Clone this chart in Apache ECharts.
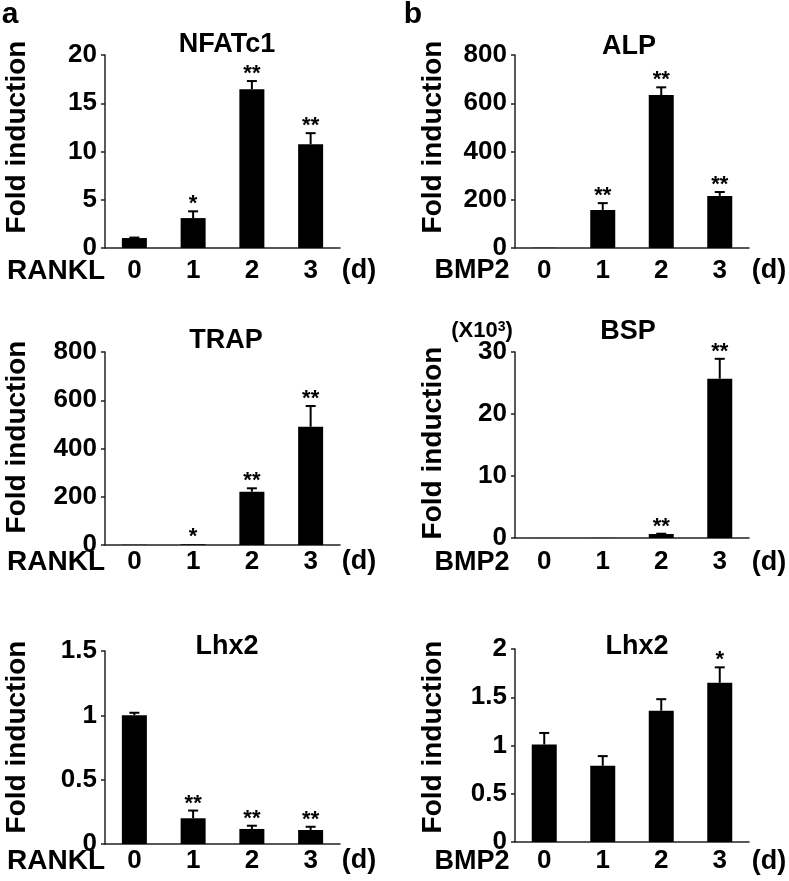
<!DOCTYPE html>
<html><head><meta charset="utf-8">
<script src="https://cdn.jsdelivr.net/npm/echarts@6/dist/echarts.min.js"></script>
<style>html,body{margin:0;padding:0;background:#fff}#c{width:789px;height:881px}</style>
</head><body><div id="c"></div>
<script>
// ---- data ----
const days = ['0', '1', '2', '3'];

const nfatc1Mean = [1.03, 3.1, 16.45, 10.75];
const nfatc1Err  = [0.05, 0.7, 0.85, 1.15];
const nfatc1Sig  = ['', '*', '**', '**'];
const nfatc1Ticks = [0, 5, 10, 15, 20];

const alpMean = [1, 158, 634, 216];
const alpErr  = [0, 28, 32, 16];
const alpSig  = ['', '**', '**', '**'];
const alpTicks = [0, 200, 400, 600, 800];

const trapMean = [1, 3, 221, 490];
const trapErr  = [0, 0, 14, 86];
const trapSig  = ['', '*', '**', '**'];
const trapTicks = [0, 200, 400, 600, 800];

const bspMean = [0.01, 0.02, 0.64, 25.7];   // x10^3
const bspErr  = [0, 0, 0.05, 3.2];
const bspSig  = ['', '', '**', '**'];
const bspTicks = [0, 10, 20, 30];

const lhx2RanklMean = [1.0, 0.2, 0.117, 0.109];
const lhx2RanklErr  = [0.02, 0.06, 0.025, 0.025];
const lhx2RanklSig  = ['', '**', '**', '**'];
const lhx2RanklTicks = [0, 0.5, 1, 1.5];

const lhx2Bmp2Mean = [1.01, 0.79, 1.36, 1.65];
const lhx2Bmp2Err  = [0.12, 0.1, 0.12, 0.16];
const lhx2Bmp2Sig  = ['', '', '', '*'];
const lhx2Bmp2Ticks = [0, 0.5, 1, 1.5, 2];

// ---- layout ----
const FONT = '"Liberation Sans", Arial, sans-serif';
const panels = [
  {title: 'NFATc1', mean: nfatc1Mean, err: nfatc1Err, sig: nfatc1Sig, ticks: nfatc1Ticks, treat: 'RANKL',
   left: 105, top: 55, height: 193, width: 235, xMargin: 10, titleX: 227, titleY: 45, nameY: 137, labY: 271},
  {title: 'ALP', mean: alpMean, err: alpErr, sig: alpSig, ticks: alpTicks, treat: 'BMP2',
   left: 515, top: 55, height: 193, width: 234, xMargin: 10, titleX: 629, titleY: 47, nameY: 137, labY: 271},
  {title: 'TRAP', mean: trapMean, err: trapErr, sig: trapSig, ticks: trapTicks, treat: 'RANKL',
   left: 105, top: 352, height: 193, width: 235, xMargin: 4, titleX: 226, titleY: 341, nameY: 437, labY: 562},
  {title: 'BSP', mean: bspMean, err: bspErr, sig: bspSig, ticks: bspTicks, treat: 'BMP2',
   left: 515, top: 352, height: 186, width: 234, xMargin: 11, titleX: 628, titleY: 332, nameY: 443, labY: 563},
  {title: 'Lhx2', mean: lhx2RanklMean, err: lhx2RanklErr, sig: lhx2RanklSig, ticks: lhx2RanklTicks, treat: 'RANKL',
   left: 105, top: 651, height: 193, width: 235, xMargin: 4, titleX: 227, titleY: 647, nameY: 737, labY: 861},
  {title: 'Lhx2', mean: lhx2Bmp2Mean, err: lhx2Bmp2Err, sig: lhx2Bmp2Sig, ticks: lhx2Bmp2Ticks, treat: 'BMP2',
   left: 515, top: 649, height: 193, width: 234, xMargin: 6, titleX: 637, titleY: 647, nameY: 737, labY: 862}
];

const AXIS_COLOR = '#222';
const grid = [], xAxis = [], yAxis = [], series = [], graphic = [];

panels.forEach((p, k) => {
  grid.push({left: p.left, top: p.top, width: p.width, height: p.height, containLabel: false});
  xAxis.push({
    type: 'category', gridIndex: k, data: days,
    axisLine: {lineStyle: {color: AXIS_COLOR, width: 1.5}},
    axisTick: {inside: true, length: 5, lineStyle: {color: AXIS_COLOR, width: 1.5}},
    axisLabel: {color: '#000', fontFamily: FONT, fontWeight: 'bold', fontSize: 26, margin: p.xMargin}
  });
  const t = p.ticks;
  yAxis.push({
    type: 'value', gridIndex: k, min: t[0], max: t[t.length - 1], interval: t[1] - t[0],
    splitLine: {show: false},
    axisLine: {show: true, lineStyle: {color: AXIS_COLOR, width: 1.5}},
    axisTick: {show: true, length: 4, lineStyle: {color: AXIS_COLOR, width: 1.5}},
    axisLabel: {color: '#000', fontFamily: FONT, fontWeight: 'bold', fontSize: 26, margin: 8}
  });
  series.push({
    type: 'bar', xAxisIndex: k, yAxisIndex: k, data: p.mean, barWidth: 25,
    itemStyle: {color: '#000'}, silent: true, animation: false
  });
  const sig = p.sig;
  series.push({
    type: 'custom', xAxisIndex: k, yAxisIndex: k, animation: false, silent: true,
    data: p.mean.map((m, i) => [i, m, p.err[i]]),
    renderItem: function (params, api) {
      const i = api.value(0), m = api.value(1), e = api.value(2);
      const p0 = api.coord([i, m]);
      const p1 = api.coord([i, m + e]);
      const children = [];
      if (e > 0) {
        children.push({type: 'line', shape: {x1: p0[0], y1: p0[1], x2: p1[0], y2: p1[1]},
          style: {stroke: '#000', lineWidth: 2}});
        children.push({type: 'line', shape: {x1: p1[0] - 5, y1: p1[1], x2: p1[0] + 5, y2: p1[1]},
          style: {stroke: '#000', lineWidth: 2}});
      }
      if (sig[i]) {
        children.push({type: 'text', x: p1[0], y: p1[1] - 7,
          style: {text: sig[i], fill: '#000', font: 'bold 22px ' + FONT, align: 'center', verticalAlign: 'middle'}});
      }
      return {type: 'group', children: children};
    }
  });

  const isA = p.left < 400;
  const txt = (text, x, y, size, extra) => Object.assign({
    type: 'text', x: x, y: y, silent: true,
    style: {text: text, fill: '#000', font: 'bold ' + size + 'px ' + FONT, align: 'center', verticalAlign: 'middle'}
  }, extra || {});
  graphic.push(txt(p.title, p.titleX, p.titleY, 27));
  graphic.push(txt('Fold induction', isA ? 17 : 433, p.nameY, 28, {rotation: Math.PI / 2}));
  graphic.push(txt(p.treat, isA ? 56 : 472, p.labY, isA ? 28 : 27));
  graphic.push(txt('(d)', isA ? 359 : 769, p.labY, 27));
});

graphic.push({type: 'text', x: 10, y: 15, silent: true,
  style: {text: 'a', fill: '#000', font: 'bold 30px ' + FONT, align: 'center', verticalAlign: 'middle'}});
graphic.push({type: 'text', x: 413, y: 15, silent: true,
  style: {text: 'b', fill: '#000', font: 'bold 30px ' + FONT, align: 'center', verticalAlign: 'middle'}});
graphic.push({type: 'text', x: 482, y: 331, silent: true,
  style: {text: '(X10{s|3})', fill: '#000', font: 'bold 22px ' + FONT, align: 'center', verticalAlign: 'middle',
    rich: {s: {fontSize: 14, fontWeight: 'bold', fontFamily: FONT, verticalAlign: 'top', padding: [0, 0, 8, 0]}}}});

const chart = echarts.init(document.getElementById('c'), null, {renderer: 'canvas'});
chart.setOption({
  animation: false, backgroundColor: '#fff',
  grid: grid, xAxis: xAxis, yAxis: yAxis, series: series, graphic: graphic
});
</script></body></html>
